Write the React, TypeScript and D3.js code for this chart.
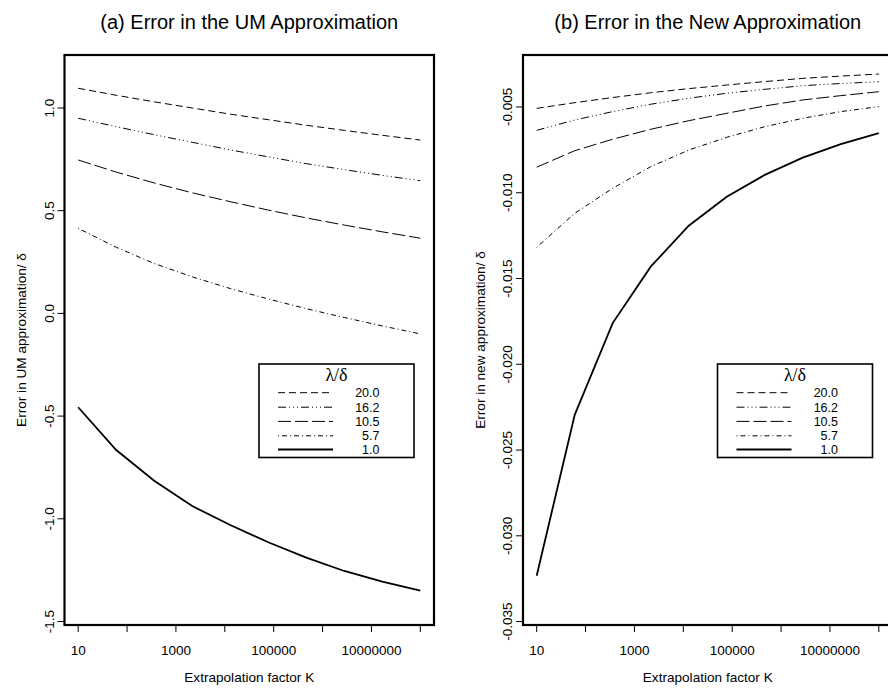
import React from "react";
import * as d3 from "d3";

// Extrapolation factor K (log-spaced sample points)
const kValues = [10, 60, 359, 2154, 12915, 77426, 464159, 2782559, 16681005, 100000000];

// Lambda/delta series labels (legend order)
const seriesLabels = ["20.0", "16.2", "10.5", "5.7", "1.0"];

// (a) Error in the UM approximation
const um20 = [1.096, 1.062, 1.03, 1.0, 0.97, 0.943, 0.916, 0.891, 0.867, 0.844];
const um16 = [0.95, 0.909, 0.87, 0.833, 0.796, 0.762, 0.729, 0.7, 0.672, 0.646];
const um10 = [0.747, 0.688, 0.635, 0.587, 0.544, 0.503, 0.465, 0.43, 0.397, 0.366];
const um5 = [0.414, 0.322, 0.243, 0.178, 0.121, 0.07, 0.023, -0.02, -0.061, -0.1];
const um1 = [-0.457, -0.665, -0.815, -0.938, -1.03, -1.114, -1.189, -1.254, -1.306, -1.35];

// (b) Error in the new approximation
const new20 = [-0.00508, -0.00475, -0.00445, -0.00417, -0.00393, -0.00372, -0.00352, -0.00333, -0.0032, -0.00308];
const new16 = [-0.00636, -0.00576, -0.00527, -0.00484, -0.00449, -0.0042, -0.00397, -0.00376, -0.00363, -0.00353];
const new10 = [-0.00851, -0.00755, -0.00688, -0.0063, -0.0058, -0.00537, -0.00494, -0.00459, -0.00434, -0.00411];
const new5 = [-0.01318, -0.0112, -0.00974, -0.00848, -0.00751, -0.00677, -0.00615, -0.00566, -0.00527, -0.00498];
const new1 = [-0.03233, -0.02295, -0.0176, -0.01431, -0.01192, -0.01023, -0.00896, -0.00795, -0.00717, -0.00653];

// Axis ticks
const xTicks = [10, 100, 1000, 10000, 100000, 1000000, 10000000, 100000000];
const xTickLabels = ["10", "", "1000", "", "100000", "", "10000000", ""];
const leftYTicks = [-1.5, -1.0, -0.5, 0.0, 0.5, 1.0];
const leftYTickLabels = ["-1.5", "-1.0", "-0.5", "0.0", "0.5", "1.0"];
const rightYTicks = [-0.035, -0.03, -0.025, -0.02, -0.015, -0.01, -0.005];
const rightYTickLabels = ["-0.035", "-0.030", "-0.025", "-0.020", "-0.015", "-0.010", "-0.005"];

// line styles per series (same order as seriesLabels)
const lineStyles = [
  { dash: "7,4", width: 1 },
  { dash: "8,3,1,3,1,3,1,3", width: 1 },
  { dash: "13,4", width: 1 },
  { dash: "1,3,5,3", width: 1 },
  { dash: "none", width: 1.8 },
];

const FONT = "'Liberation Sans', Arial, Helvetica, sans-serif";

type PanelProps = {
  x0: number;
  title: string;
  ylabel: string;
  yDomain: [number, number];
  yTicks: number[];
  yTickLabels: string[];
  series: number[][];
};

function Panel({ x0, title, ylabel, yDomain, yTicks, yTickLabels, series }: PanelProps) {
  const left = x0;
  const right = x0 + 369.5;
  const top = 55;
  const bottom = 625;
  const cx = (left + right) / 2;
  const xs = d3.scaleLog().domain([Math.pow(10, 0.72), Math.pow(10, 8.28)]).range([left, right]);
  const ys = d3.scaleLinear().domain(yDomain).range([bottom, top]);
  const line = d3
    .line<number>()
    .x((_, i) => xs(kValues[i]))
    .y((d) => ys(d));

  const legX = left + 194.5;
  const legY = 364;
  const legW = 155;
  const legH = 93.5;
  const rowY = [28.7, 43.2, 57.4, 71.8, 85.5];

  return (
    <g>
      <text x={cx} y={29} textAnchor="middle" fontFamily={FONT} fontSize={20}>
        {title}
      </text>
      {series.map((s, i) => (
        <path
          key={i}
          d={line(s) || ""}
          fill="none"
          stroke="#000"
          strokeWidth={lineStyles[i].width}
          strokeDasharray={lineStyles[i].dash}
        />
      ))}
      <rect x={left} y={top} width={right - left} height={bottom - top} fill="none" stroke="#000" strokeWidth={2.2} />
      {xTicks.map((t, i) => (
        <g key={i}>
          <line x1={xs(t)} x2={xs(t)} y1={bottom} y2={bottom + 7} stroke="#000" strokeWidth={1} />
          {xTickLabels[i] && (
            <text x={xs(t)} y={654.5} textAnchor="middle" fontFamily={FONT} fontSize={13.5}>
              {xTickLabels[i]}
            </text>
          )}
        </g>
      ))}
      {yTicks.map((t, i) => (
        <g key={i}>
          <line x1={left} x2={left - 7} y1={ys(t)} y2={ys(t)} stroke="#000" strokeWidth={1} />
          <text
            transform={`translate(${left - 11},${ys(t)}) rotate(-90)`}
            textAnchor="middle"
            fontFamily={FONT}
            fontSize={13.5}
          >
            {yTickLabels[i]}
          </text>
        </g>
      ))}
      <text x={cx} y={681.7} textAnchor="middle" fontFamily={FONT} fontSize={13.6}>
        Extrapolation factor K
      </text>
      <text
        transform={`translate(${left - 38.5},${(top + bottom) / 2}) rotate(-90)`}
        textAnchor="middle"
        fontFamily={FONT}
        fontSize={13.6}
      >
        {ylabel}
      </text>
      <g>
        <rect x={legX} y={legY} width={legW} height={legH} fill="#fff" stroke="#000" strokeWidth={1.6} />
        <text
          x={legX + legW / 2}
          y={legY + 17}
          textAnchor="middle"
          fontFamily="'Liberation Serif', 'Times New Roman', serif"
          fontSize={18}
        >
          λ/δ
        </text>
        {seriesLabels.map((lab, i) => (
          <g key={i}>
            <line
              x1={legX + 19}
              x2={legX + 74}
              y1={legY + rowY[i]}
              y2={legY + rowY[i]}
              stroke="#000"
              strokeWidth={lineStyles[i].width}
              strokeDasharray={lineStyles[i].dash}
            />
            <text x={legX + 120.5} y={legY + rowY[i] + 4.3} textAnchor="end" fontFamily={FONT} fontSize={12.5}>
              {lab}
            </text>
          </g>
        ))}
      </g>
    </g>
  );
}

export default function App() {
  return (
    <svg
      width={888}
      height={690}
      viewBox="0 0 888 690"
      style={{ position: "absolute", left: 0, top: 0, background: "#fff" }}
    >
      <rect x={0} y={0} width={888} height={690} fill="#fff" />
      <Panel
        x0={64.5}
        title="(a) Error in the UM Approximation"
        ylabel="Error in UM approximation/  δ"
        yDomain={[-1.517, 1.258]}
        yTicks={leftYTicks}
        yTickLabels={leftYTickLabels}
        series={[um20, um16, um10, um5, um1]}
      />
      <Panel
        x0={523}
        title="(b) Error in the New Approximation"
        ylabel="Error in new approximation/  δ"
        yDomain={[-0.0352, -0.00197]}
        yTicks={rightYTicks}
        yTickLabels={rightYTickLabels}
        series={[new20, new16, new10, new5, new1]}
      />
    </svg>
  );
}
